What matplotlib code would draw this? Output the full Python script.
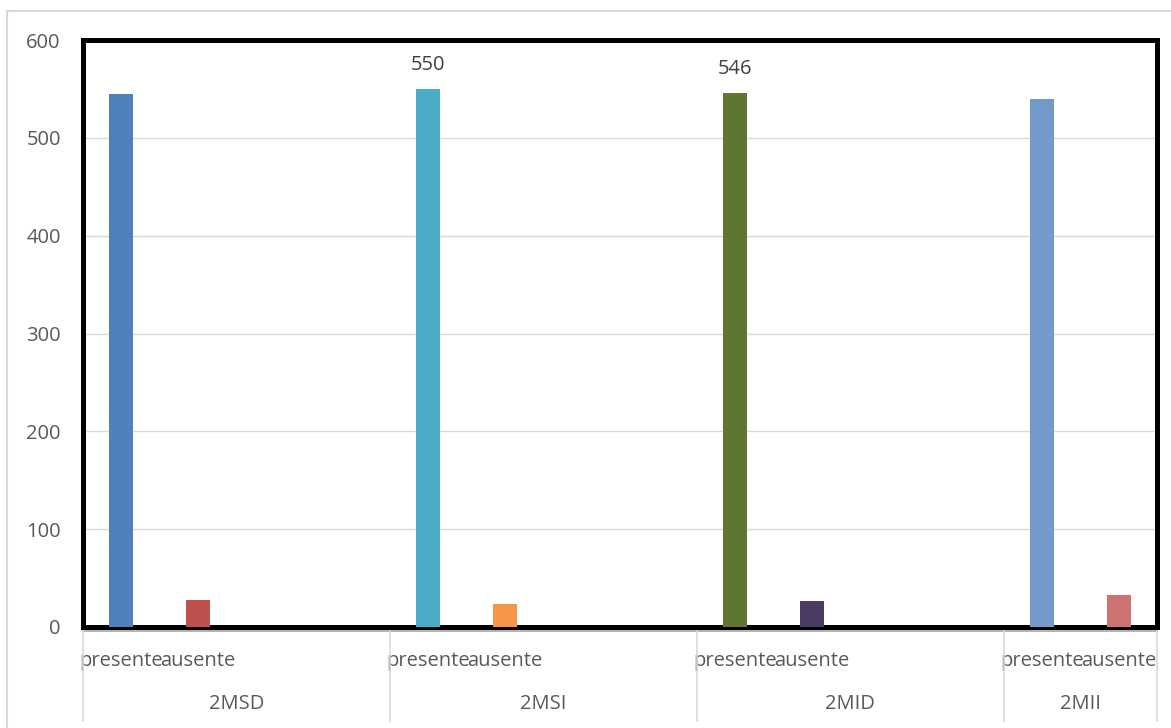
import matplotlib.pyplot as plt
import matplotlib.transforms as mtransforms
from matplotlib.lines import Line2D

plt.rcParams['font.family'] = ['Open Sans', 'DejaVu Sans']

# data
groups = ['2MSD', '2MSI', '2MID', '2MII']
subcats = ['presente', 'ausente']
presente = [545, 550, 546, 540]
ausente = [28, 23, 27, 33]
presente_colors = ['#4F81BD', '#4BACC6', '#5F7530', '#729ACA']
ausente_colors = ['#C0504D', '#F79646', '#4B3B63', '#CD7371']
show_label = [False, True, True, False]

grey_txt = '#595959'
grid_col = '#D9D9D9'
fs = 14.5

fig = plt.figure(figsize=(11.71, 7.28), dpi=100)
ax = fig.add_axes([83 / 1171, 101 / 728, (1157 - 83) / 1171, (627 - 40) / 728])

slot = 4  # each group takes 4 slots on the category axis
bar_w = 0.31
pres_x = [g * slot + 0.5 for g in range(len(groups))]
aus_x = [g * slot + 1.5 for g in range(len(groups))]

ax.bar(pres_x, presente, width=bar_w, color=presente_colors, zorder=3)
ax.bar(aus_x, ausente, width=bar_w, color=ausente_colors, zorder=3)

for x, v, s in zip(pres_x, presente, show_label):
    if s:
        ax.annotate(str(v), (x, v), xytext=(0, 10), textcoords='offset points',
                    ha='center', va='bottom', fontsize=fs, color='#404040')

ax.set_ylim(0, 600)
ax.set_xlim(0, 14.0)
ax.set_yticks(range(0, 601, 100))
ax.yaxis.grid(True, color=grid_col, linewidth=1.0, zorder=0)
ax.set_axisbelow(True)
ax.tick_params(axis='y', length=0, pad=16, labelsize=fs, labelcolor=grey_txt)

# sub-category labels as ticks
xt = []
xl = []
for g in range(len(groups)):
    xt += [pres_x[g], aus_x[g]]
    xl += subcats
ax.set_xticks(xt)
ax.set_xticklabels(xl)
ax.tick_params(axis='x', length=0, pad=17, labelsize=fs, labelcolor=grey_txt)

for sp in ax.spines.values():
    sp.set_linewidth(3.6)
    sp.set_color('black')

trans = mtransforms.blended_transform_factory(ax.transData, ax.transAxes)
# grey category axis line just under the black border
ax.plot([0, 14.0], [-0.006, -0.006], transform=trans, color='#A6A6A6',
        linewidth=1.2, clip_on=False)
# group divider lines
for xd in [0, 4, 8, 12, 14.0]:
    ax.plot([xd, xd], [-0.006, -0.16], transform=trans, color=grid_col,
            linewidth=1.2, clip_on=False)
# group labels
group_centers = [2, 6, 10, 13.0]
for xc, name in zip(group_centers, groups):
    ax.text(xc, -0.132, name, transform=trans, ha='center', va='center',
            fontsize=fs, color=grey_txt)

# outer chart frame (cropped on right and bottom)
fig.add_artist(Line2D([7 / 1171, 7 / 1171, 1.0], [0.0, 1 - 11 / 728, 1 - 11 / 728],
                      transform=fig.transFigure, color=grid_col, linewidth=1.5))

plt.savefig('out.png', dpi=100)
